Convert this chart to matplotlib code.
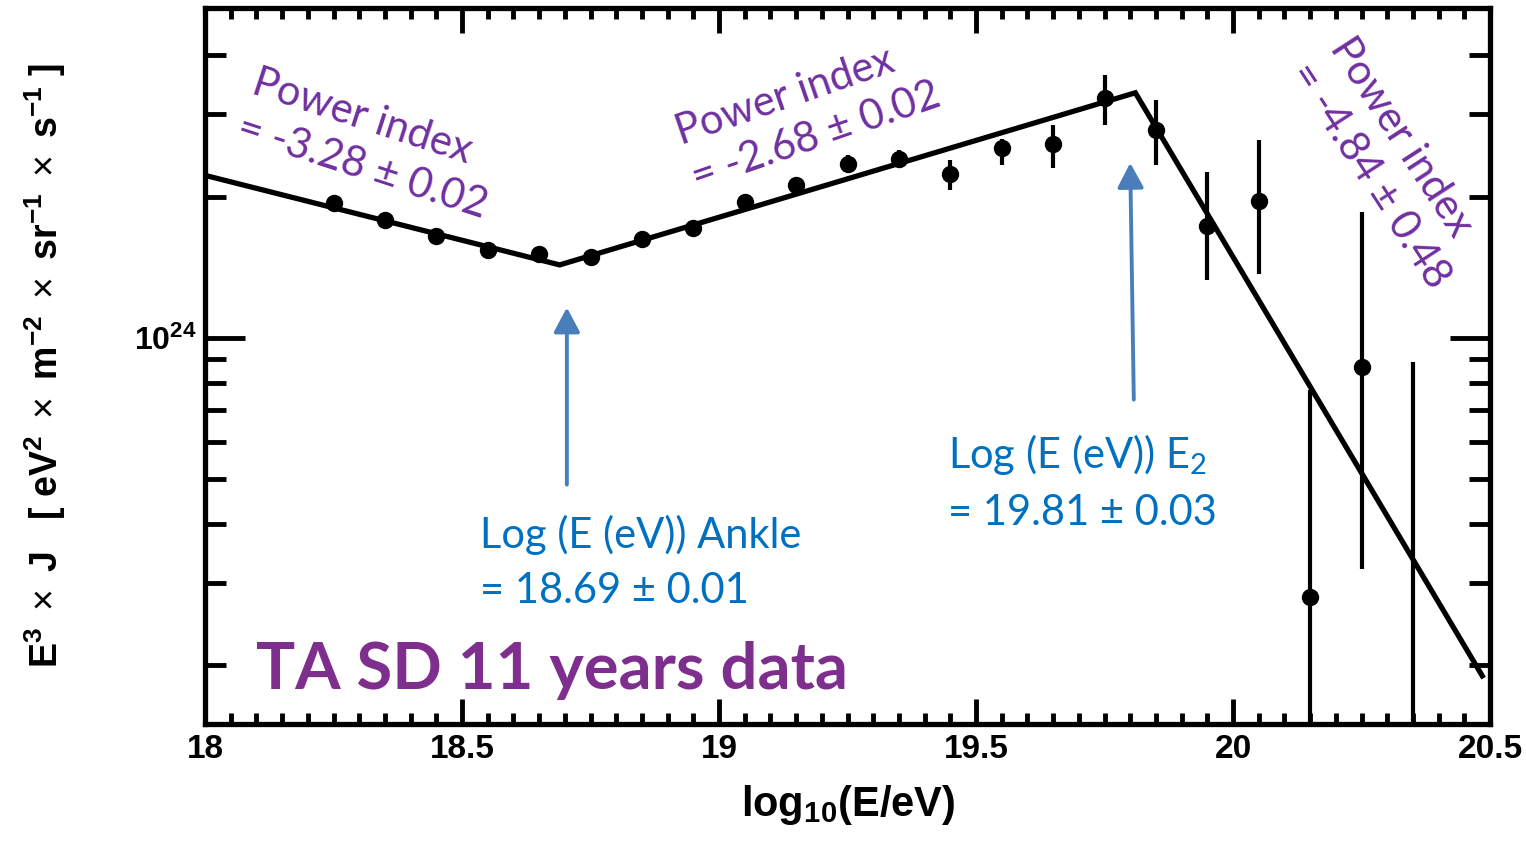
import numpy as np
import matplotlib
matplotlib.use("Agg")
import matplotlib.pyplot as plt
from matplotlib.ticker import FixedLocator, NullFormatter, FixedFormatter

plt.rcParams["mathtext.fontset"] = "custom"
plt.rcParams["mathtext.rm"] = "Liberation Sans"
plt.rcParams["mathtext.bf"] = "Liberation Sans:bold"
plt.rcParams["mathtext.it"] = "Liberation Sans:italic"

# TA SD spectrum, E^3 J values
log_e = [18.25, 18.35, 18.45, 18.55, 18.65, 18.75, 18.85, 18.95, 19.05, 19.15,
         19.25, 19.35, 19.45, 19.55, 19.65, 19.75, 19.85, 19.95, 20.05, 20.15,
         20.25, 20.35]
flux = [1.94e24, 1.78e24, 1.65e24, 1.54e24, 1.51e24, 1.49e24, 1.62e24, 1.71e24, 1.95e24, 2.12e24,
        2.35e24, 2.41e24, 2.23e24, 2.54e24, 2.59e24, 3.24e24, 2.78e24, 1.73e24, 1.96e24, 2.80e23,
        8.68e23, np.nan]
err_lo = [1.92e24, 1.76e24, 1.63e24, 1.52e24, 1.49e24, 1.47e24, 1.60e24, 1.69e24, 1.92e24, 2.08e24,
          2.26e24, 2.30e24, 2.07e24, 2.33e24, 2.30e24, 2.84e24, 2.33e24, 1.33e24, 1.37e24, 1e22,
          3.21e23, 1e22]
err_hi = [1.96e24, 1.80e24, 1.67e24, 1.56e24, 1.53e24, 1.51e24, 1.64e24, 1.73e24, 1.98e24, 2.16e24,
          2.45e24, 2.51e24, 2.39e24, 2.66e24, 2.84e24, 3.63e24, 3.21e24, 2.26e24, 2.64e24, 7.75e23,
          1.85e24, 8.89e23]

# broken power law fit (ankle 18.69, E2 19.81)
fit_x = [18.0, 18.69, 19.81, 20.485]
fit_y = [2.22e24, 1.43e24, 3.33e24, 1.90e23]

purple = "#7030A0"
blue = "#0070C0"
arrow_c = "#4A7EBB"

fig = plt.figure(figsize=(15.26, 8.43), dpi=100)
ax = fig.add_axes([205/1526, 1-724/843, (1490-205)/1526, (724-8)/843])

ax.plot(fit_x, fit_y, color="black", lw=3.8, solid_joinstyle="miter", zorder=3)
ax.vlines(log_e, err_lo, err_hi, color="black", lw=3, zorder=4)
ax.plot(log_e, flux, "o", color="black", ms=11.5, zorder=5)

ax.set_yscale("log")
ax.set_xlim(18, 20.5)
ax.set_ylim(1.5e23, 5.05e24)

# ticks
ax.set_xticks([18, 18.5, 19, 19.5, 20, 20.5])
ax.set_xticklabels(["18", "18.5", "19", "19.5", "20", "20.5"])
ax.set_xticks(np.arange(18.05, 20.5, 0.05), minor=True)
ax.yaxis.set_major_locator(FixedLocator([1e24]))
ax.yaxis.set_major_formatter(FixedFormatter([r"$\mathbf{10^{24}}$"]))
ax.yaxis.set_minor_locator(FixedLocator([2e23, 3e23, 4e23, 5e23, 6e23, 7e23, 8e23, 9e23,
                                         2e24, 3e24, 4e24]))
ax.yaxis.set_minor_formatter(NullFormatter())
ax.tick_params(axis="x", which="major", direction="in", length=18, width=3.5,
               top=True, labelsize=24, pad=7)
ax.tick_params(axis="x", which="minor", direction="in", length=8, width=3.5, top=True)
ax.tick_params(axis="y", which="major", direction="in", length=29, width=3.5,
               right=True, labelsize=23, pad=6)
ax.tick_params(axis="y", which="minor", direction="in", length=15, width=3.5, right=True)
for lab in ax.get_xticklabels() + ax.get_yticklabels():
    lab.set_fontweight("bold")
    lab.set_family("Liberation Sans")
for sp in ax.spines.values():
    sp.set_linewidth(3.8)

fig.text(848/1526, 1-805/843, r"$\mathbf{log_{10}(E/eV)}$", ha="center", va="center",
         fontsize=30)
ylab = (r"$\mathbf{E^{3}}\ \times\ \mathbf{J}\ \ \ \mathbf{[\ eV^{2}}\ \times\ \mathbf{m^{-2}}"
        r"\ \times\ \mathbf{sr^{-1}}\ \times\ \mathbf{s^{-1}\ ]}$")
fig.text(45/1526, 1-365/843, ylab, rotation=90, ha="center", va="center", fontsize=27)

# power index labels
ax.text(18.321, 2.58e24, "Power index\n= -3.28 ± 0.02", color=purple, fontsize=30,
        family="Lato", rotation=-18, ha="center", va="center", rotation_mode="anchor",
        multialignment="left", linespacing=1.3)
ax.text(19.173, 3.0e24, "Power index\n= -2.68 ± 0.02", color=purple, fontsize=30,
        family="Lato", rotation=19, ha="center", va="center", rotation_mode="anchor",
        multialignment="left", linespacing=1.3)
ax.text(20.305, 2.36e24, "Power index\n= -4.84 ± 0.48", color=purple, fontsize=30,
        family="Lato", rotation=-57, ha="center", va="center", rotation_mode="anchor",
        multialignment="left", linespacing=1.3)

# break arrows
arrow_style = dict(arrowstyle="-|>,head_length=0.75,head_width=0.4", mutation_scale=20,
                   color=arrow_c, lw=2.8, shrinkA=0, shrinkB=0)
ax.annotate("", xy=(18.704, 1.16e24), xytext=(18.704, 4.86e23), arrowprops=arrow_style)
ax.annotate("", xy=(19.80, 2.36e24), xytext=(19.807, 7.38e23), arrowprops=arrow_style)
ax.text(18.535, 4.2e23, "Log (E (eV)) Ankle\n= 18.69 ± 0.01", color=blue, fontsize=30,
        family="Lato", ha="left", va="top", linespacing=1.55)
ax.text(19.446, 6.3e23, "Log (E (eV)) E$_\\mathregular{2}$\n= 19.81 ± 0.03", color=blue,
        fontsize=30, family="Lato", ha="left", va="top", linespacing=1.55)

ax.text(18.1, 1.95e23, "TA SD 11 years data", color="#7E2F8E", fontsize=47,
        family="Lato", fontweight="bold", ha="left", va="center")

fig.savefig("out.png", dpi=100)
